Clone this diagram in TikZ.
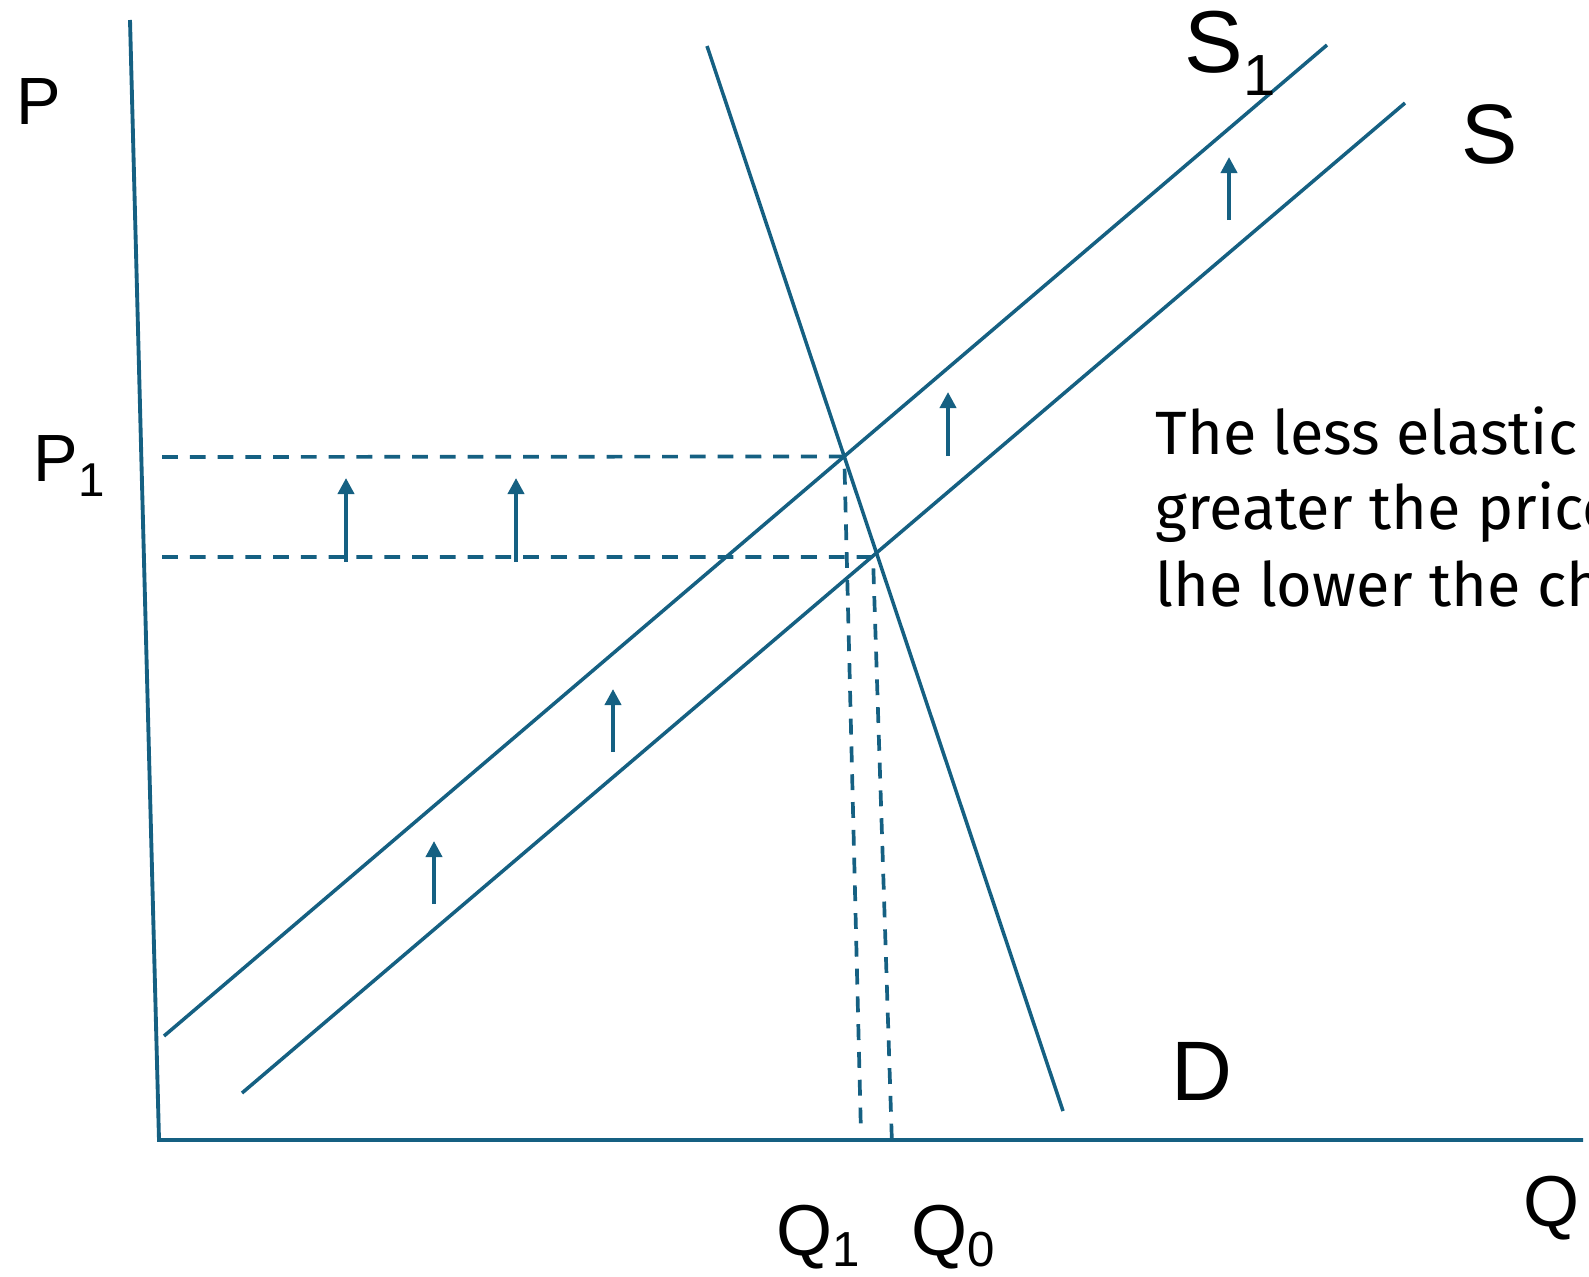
\documentclass[tikz,border=0pt]{standalone}
\usepackage{fontspec}
\setmainfont{Liberation Sans}
\newfontfamily\notefont{Fira Sans}
\usetikzlibrary{arrows.meta}
\definecolor{curve}{HTML}{156082}
% letter with a lowered index: letter, index, index size, drop
\newcommand{\lettersub}[4]{#1\raisebox{-#4}{\fontsize{#3}{#3}\selectfont #2}}

\begin{document}
\begin{tikzpicture}[x=0.01cm, y=-0.01cm, curveline/.style={draw=curve, line width=1pt}, axisline/.style={draw=curve, line width=1.1pt}, guide/.style={draw=curve, line width=1.05pt, dash pattern=on 4.5pt off 3.4pt}, shiftup/.style={-{Triangle[width=4.6pt,length=4.6pt]}, draw=curve, fill=curve, line width=1.1pt}, axislabel/.style={anchor=base west, inner sep=0pt, font=\fontsize{19}{22}\selectfont}, curvelabel/.style={anchor=base west, inner sep=0pt, font=\fontsize{24}{28}\selectfont}, note/.style={anchor=base west, inner sep=0pt, font=\notefont\fontsize{17.4}{21}\selectfont}]
\useasboundingbox (0,0) rectangle (1589,1276);
\coordinate (ptop) at (130,20);
\coordinate (origin) at (159,1140);
\coordinate (qend) at (1583,1140);
\coordinate (dtop) at (707,46);
\coordinate (dbot) at (1063,1111);
\coordinate (s1bot) at (164,1036);
\coordinate (s1top) at (1327,45);
\coordinate (sbot) at (242,1093);
\coordinate (stop) at (1405,103);
\coordinate (e1) at (intersection of dtop--dbot and s1bot--s1top);
\coordinate (e0) at (873,557);
\coordinate (p1left) at (162,457);
\coordinate (p0left) at (162,557);
\coordinate (q1foot) at (861,1135);
\coordinate (q0foot) at (892,1145);
% axes
\draw[axisline] (ptop) -- (origin) -- (qend);
% demand and supply
\draw[curveline] (dtop) -- (dbot);
\draw[curveline] (s1bot) -- (s1top);
\draw[curveline] (sbot) -- (stop);
% guides to the axes
\draw[guide] (p1left) -- (e1) -- (q1foot);
\draw[guide] (p0left) -- (e0) -- (q0foot);
% shift of supply
\foreach \x/\ya/\yb in {346/562/478, 516/562/478, 613/752/689, 434/904/841, 948/456/392, 1229/220/157}
  \draw[shiftup] (\x,\ya) -- (\x,\yb);
% labels
\node[axislabel] (plabel) at (16,125) {P};
\node[axislabel] (p1label) at (33,481) {\lettersub{P}{1}{13.5}{4.5pt}};
\node[axislabel, font=\fontsize{20.5}{24}\selectfont] (qlabel) at (1523,1226) {Q};
\node[axislabel, font=\fontsize{20.5}{24}\selectfont] (q1label) at (776,1255) {\lettersub{Q}{1}{14}{3.4pt}};
\node[axislabel, font=\fontsize{20.5}{24}\selectfont] (q0label) at (911,1255) {\lettersub{Q}{0}{14}{3.4pt}};
\node[curvelabel, font=\fontsize{25}{28}\selectfont] (s1label) at (1184,73) {\lettersub{S}{1}{16.5}{6.3pt}};
\node[curvelabel] (slabel) at (1461,163) {S};
\node[curvelabel] (dlabel) at (1171,1100) {D};
\node[note] (note1) at (1155,454) {The less elastic};
\node[note] (note2) at (1155,529) {greater the price};
\node[note] (note3) at (1155,606) {lhe lower the ch};
\end{tikzpicture}
\end{document}
